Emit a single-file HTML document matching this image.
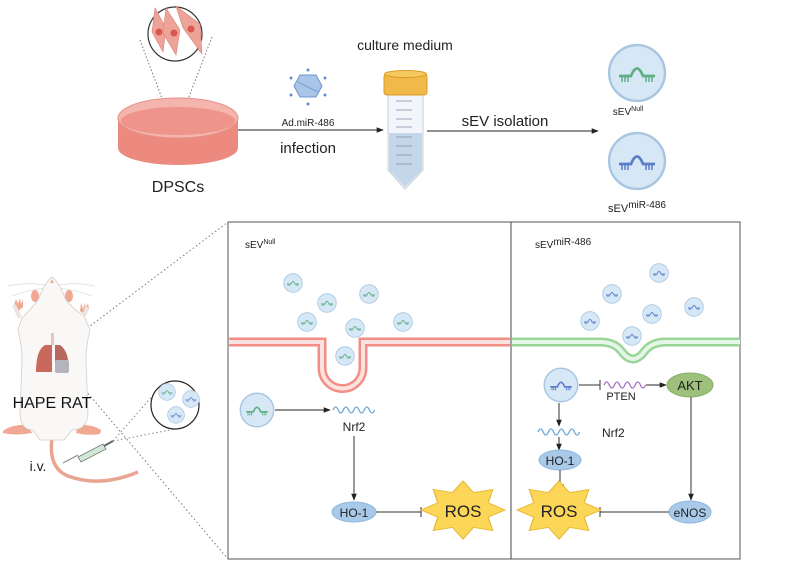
<!DOCTYPE html>
<html><head><meta charset="utf-8"><style>
html,body{margin:0;padding:0;background:#fff;}
svg{display:block;font-family:"Liberation Sans",sans-serif;}
</style></head><body>
<svg width="789" height="564" viewBox="0 0 789 564" xmlns="http://www.w3.org/2000/svg">
<defs>
<marker id="ar" viewBox="0 0 10 10" refX="9" refY="5" markerWidth="7" markerHeight="7" orient="auto"><path d="M0,1 L10,5 L0,9 Z" fill="#222"/></marker>
<symbol id="vg" viewBox="-10 -10 20 20"><circle r="9.3" fill="#d6e7f5" stroke="#a8c6e2" stroke-width="0.8"/><path d="M-6,1 H-2 Q0,-4 2,1 H6" fill="none" stroke="#5fae86" stroke-width="0.9"/><path d="M-5,1v2M-4,1v2M-3,1v2M3,1v2M4,1v2M5,1v2" stroke="#5fae86" stroke-width="0.5"/></symbol>
<symbol id="vb" viewBox="-10 -10 20 20"><circle r="9.3" fill="#d6e7f5" stroke="#a8c6e2" stroke-width="0.8"/><path d="M-6,1 H-2 Q0,-4 2,1 H6" fill="none" stroke="#5a7fc8" stroke-width="0.9"/><path d="M-5,1v2M-4,1v2M-3,1v2M3,1v2M4,1v2M5,1v2" stroke="#5a7fc8" stroke-width="0.5"/></symbol>
<polygon id="star" points="1,0 0.6,0.25 0.707,0.707 0.25,0.6 0,1 -0.25,0.6 -0.707,0.707 -0.6,0.25 -1,0 -0.6,-0.25 -0.707,-0.707 -0.25,-0.6 0,-1 0.25,-0.6 0.707,-0.707 0.6,-0.25"/>
</defs>

<!-- top: cells circle + dish -->
<line x1="140" y1="40" x2="175" y2="133" stroke="#777" stroke-dasharray="1.5,2"/>
<line x1="212" y1="37" x2="175" y2="133" stroke="#777" stroke-dasharray="1.5,2"/>
<circle cx="175" cy="34" r="27" fill="#fff" stroke="#333" stroke-width="1.2"/>
<g fill="#eea399" stroke="#d98074" stroke-width="0.6">
<path d="M155,8 L166,28 L163,52 L152,32 Z"/><path d="M166,8 L180,30 L176,55 L163,33 Z"/><path d="M176,6 L200,24 L202,54 L183,28 Z"/>
</g>
<g fill="#d9574f"><circle cx="159" cy="32" r="3.5"/><circle cx="174" cy="33" r="3.5"/><circle cx="191" cy="29" r="3.5"/></g>
<path d="M118,118 V148 A60,17 0 0 0 238,148 V118 Z" fill="#ec8a80"/>
<ellipse cx="178" cy="118" rx="60" ry="20" fill="#f3b5ae" stroke="#e79088"/>
<ellipse cx="178" cy="121" rx="57" ry="14" fill="#ee948b"/>
<text x="178" y="192" font-size="16" text-anchor="middle" fill="#222">DPSCs</text>

<!-- virus -->
<polygon points="300,75 316,75 322,86 316,97 300,97 294,86" fill="#a9c5e8" stroke="#6f95cd"/>
<line x1="298" y1="82" x2="318" y2="92" stroke="#6f95cd" stroke-width="0.8"/>
<g fill="#5e8ed0"><circle cx="308" cy="70" r="1.5"/><circle cx="308" cy="104" r="1.5"/><circle cx="291" cy="78" r="1.5"/><circle cx="325" cy="78" r="1.5"/><circle cx="291" cy="95" r="1.5"/><circle cx="325" cy="95" r="1.5"/></g>
<text x="308" y="126" font-size="10" text-anchor="middle" fill="#222">Ad.miR-486</text>
<line x1="238" y1="130" x2="383" y2="130" stroke="#222" stroke-width="1" marker-end="url(#ar)"/>
<text x="308" y="153" font-size="15" text-anchor="middle" fill="#222">infection</text>

<!-- tube -->
<text x="405" y="50" font-size="14" text-anchor="middle" fill="#222">culture medium</text>
<path d="M388,95 H423 V170 L405,189 L388,170 Z" fill="#f2f5fa" stroke="#c8d0dc"/>
<path d="M389,133 H422 V170 L405,187 L389,170 Z" fill="#c4d6ea"/>
<g stroke="#8894a8" stroke-width="0.8"><line x1="396" y1="101" x2="412" y2="101"/><line x1="396" y1="110" x2="412" y2="110"/><line x1="396" y1="119" x2="412" y2="119"/><line x1="396" y1="127" x2="412" y2="127"/><line x1="396" y1="137" x2="412" y2="137"/><line x1="396" y1="146" x2="412" y2="146"/><line x1="396" y1="155" x2="412" y2="155"/><line x1="396" y1="164" x2="412" y2="164"/></g>
<rect x="384" y="74" width="43" height="21" rx="3" fill="#f0b94a" stroke="#d99c25"/>
<ellipse cx="405.5" cy="74" rx="21" ry="3.5" fill="#f5c960" stroke="#d99c25"/>
<line x1="427" y1="131" x2="598" y2="131" stroke="#222" stroke-width="1" marker-end="url(#ar)"/>
<text x="505" y="126" font-size="15" text-anchor="middle" fill="#222">sEV isolation</text>

<use href="#vg" x="607" y="43" width="60" height="60"/>
<text x="628" y="115" font-size="10" fill="#222" text-anchor="middle">sEV<tspan font-size="7" dy="-4">Null</tspan></text>
<use href="#vb" x="607" y="131" width="60" height="60"/>
<text x="637" y="212" font-size="11" fill="#222" text-anchor="middle">sEV<tspan font-size="10" dy="-4">miR-486</tspan></text>

<!-- rat -->
<line x1="65" y1="345" x2="228" y2="222" stroke="#777" stroke-dasharray="1.5,2.5"/>
<line x1="70" y1="372" x2="228" y2="559" stroke="#777" stroke-dasharray="1.5,2.5"/>
<g stroke="#ccc" stroke-width="0.5" fill="none"><path d="M45,285 Q25,282 8,286"/><path d="M45,288 Q28,290 12,296"/><path d="M59,285 Q78,282 95,286"/><path d="M59,288 Q76,290 92,296"/></g>
<path d="M80,325 L78,430" stroke="#f0a892" stroke-width="0"/>
<g fill="#f0a892">
<path d="M14,305 l2,-6 2,5 2,-6 1,6 2,-5 0,8 -6,5z"/><path d="M80,311 l1,-8 2,6 2,-6 1,5 2,-5 1,6 -4,6z"/>
<path d="M3,431 Q12,424 28,425 L32,433 Q15,436 3,433Z"/><path d="M78,425 Q92,424 101,430 L100,434 Q88,436 76,433Z"/>
<ellipse cx="35" cy="296" rx="4" ry="6"/><ellipse cx="69" cy="296" rx="4" ry="6"/>
</g>
<path d="M52,438 Q48,468 68,476 Q100,488 138,472" fill="none" stroke="#e9a591" stroke-width="3.5"/>
<path d="M52,277 Q45,282 38,300 Q30,310 22,318 L18,330 Q22,345 22,360 L20,415 Q21,430 33,430 L40,440 H64 L72,430 Q86,430 88,415 L86,360 Q86,345 90,330 L84,316 Q74,310 66,300 Q59,282 52,277 Z" fill="#faf8f6" stroke="#d3cdc8" stroke-width="0.8"/>
<path d="M20,318 L14,305 M84,316 L87,307" stroke="#e9e5e2" stroke-width="4"/>
<path d="M52,279 l-2,4 h4 z" fill="#f0a892"/>
<path d="M45,345 Q36,350 36,372 L52,372 L52,345 Z" fill="#c9695d"/>
<path d="M55,345 L55,372 L68,372 Q70,352 60,345 Z" fill="#b8685f"/>
<rect x="55" y="360" width="14" height="13" rx="2" fill="#b4b4bd"/>
<rect x="51" y="333" width="3" height="12" fill="#e9c7b8"/>
<text x="52" y="408" font-size="16" text-anchor="middle" fill="#111">HAPE RAT</text>
<text x="38" y="471" font-size="14" text-anchor="middle" fill="#222">i.v.</text>
<line x1="63" y1="463" x2="78" y2="455" stroke="#888"/>
<path d="M78,457 L103,444 L106,449 L81,462 Z" fill="#cfe8d8" stroke="#777" stroke-width="0.8"/>
<line x1="104" y1="446" x2="113" y2="441" stroke="#666" stroke-width="2"/>
<line x1="113" y1="441" x2="155" y2="393" stroke="#888" stroke-dasharray="1.5,2.5"/>
<line x1="113" y1="441" x2="175" y2="429" stroke="#888" stroke-dasharray="1.5,2.5"/>
<circle cx="175" cy="405" r="24" fill="#fff" stroke="#222" stroke-width="1.2"/>
<use href="#vg" x="158" y="383" width="18" height="18"/>
<use href="#vb" x="182" y="390" width="18" height="18"/>
<use href="#vb" x="167" y="406" width="18" height="18"/>

<!-- main box -->
<rect x="228" y="222" width="512" height="337" fill="none" stroke="#555" stroke-width="1"/>
<line x1="511" y1="222" x2="511" y2="559" stroke="#444" stroke-width="1"/>

<!-- left panel -->
<text x="245" y="248" font-size="10" fill="#222">sEV<tspan font-size="7" dy="-4">Null</tspan></text>
<path d="M229,342 H322 V368 A20.5,20.5 0 0 0 363,368 V342 H510" fill="none" stroke="#f28e85" stroke-width="9"/>
<path d="M229,342 H322 V368 A20.5,20.5 0 0 0 363,368 V342 H510" fill="none" stroke="#fde3df" stroke-width="4"/>
<g>
<use href="#vg" x="283" y="273" width="20" height="20"/><use href="#vg" x="317" y="293" width="20" height="20"/>
<use href="#vg" x="359" y="284" width="20" height="20"/><use href="#vg" x="297" y="312" width="20" height="20"/>
<use href="#vg" x="345" y="318" width="20" height="20"/><use href="#vg" x="393" y="312" width="20" height="20"/>
<use href="#vg" x="335" y="346" width="20" height="20"/>
<use href="#vg" x="239" y="392" width="36" height="36"/>
</g>
<line x1="275" y1="410" x2="330" y2="410" stroke="#222" marker-end="url(#ar)"/>
<path d="M333,410 q2.6,-6 5.2,0 t5.2,0 t5.2,0 t5.2,0 t5.2,0 t5.2,0 t5.2,0 t5.2,0" fill="none" stroke="#6da7d6" stroke-width="1.3"/>
<text x="354" y="431" font-size="12" text-anchor="middle" fill="#222">Nrf2</text>
<line x1="354" y1="436" x2="354" y2="500" stroke="#333" marker-end="url(#ar)"/>
<ellipse cx="354" cy="512" rx="22" ry="10" fill="#a9c9e8" stroke="#8fb6dc"/>
<text x="354" y="517" font-size="12" text-anchor="middle" fill="#222">HO-1</text>
<line x1="376" y1="512" x2="421" y2="512" stroke="#333"/><line x1="421" y1="507" x2="421" y2="517" stroke="#333"/>
<use href="#star" transform="translate(463,510) scale(42,29)" fill="#fbd657" stroke="#e8b93a" stroke-width="0.03"/>
<text x="463" y="517" font-size="17" text-anchor="middle" fill="#222">ROS</text>

<!-- right panel -->
<text x="535" y="248" font-size="10" fill="#222">sEV<tspan font-size="10" dy="-3">miR-486</tspan></text>
<path d="M512,342 H600 Q615,342 622,352 Q633,366 644,352 Q651,342 666,342 H740" fill="none" stroke="#9ad59a" stroke-width="9"/>
<path d="M512,342 H600 Q615,342 622,352 Q633,366 644,352 Q651,342 666,342 H740" fill="none" stroke="#e6f6e6" stroke-width="4"/>
<g>
<use href="#vb" x="649" y="263" width="20" height="20"/><use href="#vb" x="602" y="284" width="20" height="20"/>
<use href="#vb" x="642" y="304" width="20" height="20"/><use href="#vb" x="580" y="311" width="20" height="20"/>
<use href="#vb" x="684" y="297" width="20" height="20"/><use href="#vb" x="622" y="326" width="20" height="20"/>
<use href="#vb" x="543" y="367" width="36" height="36"/>
</g>
<line x1="579" y1="385" x2="600" y2="385" stroke="#333"/><line x1="600" y1="380" x2="600" y2="390" stroke="#333"/>
<path d="M604,385 q2.6,-6 5.2,0 t5.2,0 t5.2,0 t5.2,0 t5.2,0 t5.2,0 t5.2,0 t5.2,0" fill="none" stroke="#a96fc7" stroke-width="1.3"/>
<text x="621" y="400" font-size="11" text-anchor="middle" fill="#222">PTEN</text>
<line x1="646" y1="385" x2="666" y2="385" stroke="#222" marker-end="url(#ar)"/>
<ellipse cx="690" cy="385" rx="23" ry="12" fill="#9dc07a" stroke="#87ad63"/>
<text x="690" y="390" font-size="13" text-anchor="middle" fill="#222">AKT</text>
<line x1="691" y1="397" x2="691" y2="500" stroke="#333" marker-end="url(#ar)"/>
<ellipse cx="690" cy="512" rx="21" ry="11" fill="#a9c9e8" stroke="#8fb6dc"/>
<text x="690" y="517" font-size="12" text-anchor="middle" fill="#222">eNOS</text>
<line x1="669" y1="512" x2="600" y2="512" stroke="#333"/><line x1="600" y1="507" x2="600" y2="517" stroke="#333"/>
<line x1="559" y1="403" x2="559" y2="426" stroke="#333" marker-end="url(#ar)"/>
<path d="M538,432 q2.6,-6 5.2,0 t5.2,0 t5.2,0 t5.2,0 t5.2,0 t5.2,0 t5.2,0 t5.2,0" fill="none" stroke="#6da7d6" stroke-width="1.3"/>
<text x="602" y="437" font-size="12" fill="#222">Nrf2</text>
<line x1="559" y1="437" x2="559" y2="450" stroke="#333" marker-end="url(#ar)"/>
<ellipse cx="560" cy="460" rx="21" ry="10" fill="#a9c9e8" stroke="#8fb6dc"/>
<text x="560" y="465" font-size="12" text-anchor="middle" fill="#222">HO-1</text>
<line x1="560" y1="470" x2="560" y2="485" stroke="#333"/><line x1="556" y1="485" x2="564" y2="485" stroke="#333"/>
<use href="#star" transform="translate(559,510) scale(42,29)" fill="#fbd657" stroke="#e8b93a" stroke-width="0.03"/>
<text x="559" y="517" font-size="17" text-anchor="middle" fill="#222">ROS</text>
</svg>
</body></html>
